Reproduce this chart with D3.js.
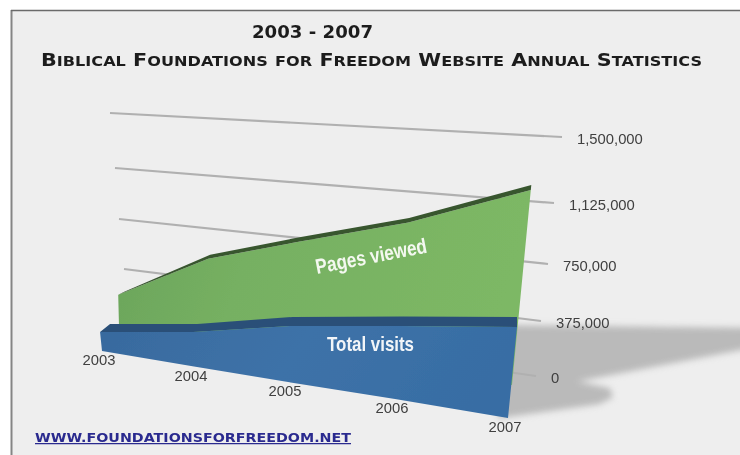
<!DOCTYPE html>
<html>
<head>
<meta charset="utf-8">
<script src="https://cdn.jsdelivr.net/npm/d3@7"></script>
<style>
  html, body { margin: 0; padding: 0; background: #fff; }
  svg { display: block; }
</style>
</head>
<body>
<div id="board"></div>
<script>
// values
const years = [2003, 2004, 2005, 2006, 2007];
const pagesViewed = [240000, 585000, 760000, 940000, 1175000];
const totalVisits = [150000, 213000, 283000, 313000, 340000];
const wallTicks = [0, 375000, 750000, 1125000, 1500000];
const title = "2003 - 2007";
const subtitle = "Biblical Foundations for Freedom Website Annual Statistics";
const siteUrl = "WWW.FOUNDATIONSFORFREEDOM.NET";

const width = 740;
const height = 455;

const svgRoot = d3.select("#board").append("svg")
    .attr("width", width)
    .attr("height", height);

const defs = svgRoot.append("defs");

defs.append("filter").attr("id", "soft")
    .attr("filterUnits", "userSpaceOnUse")
    .attr("x", 400).attr("y", 280).attr("width", 500).attr("height", 175)
    .append("feGaussianBlur").attr("stdDeviation", 3);

// the whole reference is a slightly soft screen grab
defs.append("filter").attr("id", "blurry")
    .attr("filterUnits", "userSpaceOnUse")
    .attr("x", 0).attr("y", 0).attr("width", width).attr("height", height)
    .append("feGaussianBlur").attr("stdDeviation", 0.5);

function gradient(id, x2, y2, stops) {
    const g = defs.append("linearGradient").attr("id", id)
        .attr("x1", 0).attr("y1", 0).attr("x2", x2).attr("y2", y2);
    stops.forEach(s => g.append("stop").attr("offset", s[0]).attr("stop-color", s[1]));
}
gradient("greenFill", 1, 0.15, [[0, "#6aa45a"], [0.35, "#76b062"], [1, "#7db865"]]);
gradient("blueFill", 1, 0.15, [[0, "#386a9e"], [0.5, "#3e72a8"], [1, "#376da4"]]);

const svg = svgRoot.append("g").attr("filter", "url(#blurry)");

// background and frame
svg.append("rect").attr("x", 12).attr("y", 11)
    .attr("width", width - 12).attr("height", height - 11)
    .attr("fill", "#eeeeee");
svg.append("line").attr("x1", 11.5).attr("x2", 11.5).attr("y1", 10).attr("y2", height)
    .attr("stroke", "#858585").attr("stroke-width", 2);
svg.append("line").attr("x1", 11).attr("x2", width).attr("y1", 10.5).attr("y2", 10.5)
    .attr("stroke", "#6a6a6a").attr("stroke-width", 1.6);

// back wall, each end of a gridline has its own scale because of the perspective
const wallLeftX = d3.scaleLinear().domain(wallTicks).range([128, 124, 119, 115, 110]);
const wallLeftY = d3.scaleLinear().domain(wallTicks).range([318, 269, 219, 168, 113]);
const wallRightX = d3.scaleLinear().domain(wallTicks).range([536, 541, 548, 554, 562]);
const wallRightY = d3.scaleLinear().domain(wallTicks).range([376, 321, 264, 203, 137]);

// a plane is a baseline plus a px per 100k height and lean for every year
function makePlane(xs, ys, rise, lean) {
    const baseX = d3.scaleLinear().domain(years).range(xs);
    const baseY = d3.scaleLinear().domain(years).range(ys);
    const riseY = d3.scaleLinear().domain(years).range(rise);
    const leanX = d3.scaleLinear().domain(years).range(lean);
    return {
        x: (yr, v) => baseX(yr) + leanX(yr) * v / 100000,
        y: (yr, v) => baseY(yr) - riseY(yr) * v / 100000
    };
}

const greenPlane = makePlane(
    [119, 207, 295, 398, 512], [326, 340, 354, 370, 385],
    [13, 13.9, 14.8, 15.7, 16.6], [-0.33, 0.2, 0.65, 1.1, 1.6]);
const bluePlane = makePlane(
    [102, 194, 288, 395, 508], [351, 366.5, 382, 399, 418],
    [12.7, 16.2, 19.8, 23.3, 26.8], [-1.3, -0.3, 0.7, 1.7, 2.65]);

// depth of the top bands
const greenDepthX = d3.scaleLinear().domain(years).range([6, 2, 1, 0.8, 0.5]);
const greenDepthY = d3.scaleLinear().domain(years).range([-3, -4, -4.5, -4.5, -5]);
const blueDepthX = d3.scaleLinear().domain(years).range([10, 4, 3, 1, 0]);
const blueDepthY = d3.scaleLinear().domain(years).range([-8, -8, -9, -9.5, -10]);

// floor shadow, starts a bit behind the blue face so the blur leaves no gap
const lastYear = years[years.length - 1];
const lastPages = pagesViewed[pagesViewed.length - 1];
const lastVisits = totalVisits[totalVisits.length - 1];
const shadowX = d3.scaleLinear().domain([0, lastPages]).range([508, 850]);
const shadowY = d3.scaleLinear().domain([0, lastPages]).range([418, 329]);
const tipX = shadowX(lastVisits);
const tipY = shadowY(lastVisits);

const shadow = svg.append("g").attr("filter", "url(#soft)").attr("fill", "#bababa");
shadow.append("path").attr("d", d3.line()([
    [bluePlane.x(lastYear, lastVisits) - 10, bluePlane.y(lastYear, lastVisits) - 2],
    [shadowX(lastPages), shadowY(lastPages)],
    [bluePlane.x(lastYear, 80000) - 10, bluePlane.y(lastYear, 80000)]
]));
shadow.append("path").attr("d", d3.line()([
    [bluePlane.x(lastYear, 0) - 10, bluePlane.y(lastYear, 0)],
    [bluePlane.x(lastYear, 0), bluePlane.y(lastYear, 0) - 1],
    [tipX - 8, tipY + 12],
    [tipX + 6, tipY + 5],
    [tipX + 3, tipY - 4],
    [tipX - 25, tipY - 10],
    [bluePlane.x(lastYear, lastVisits / 2) - 10, bluePlane.y(lastYear, lastVisits / 2)]
]));

// gridlines and value labels
const grid = svg.append("g");
grid.selectAll("line").data(wallTicks).join("line")
    .attr("x1", d => wallLeftX(d))
    .attr("y1", d => wallLeftY(d))
    .attr("x2", d => wallRightX(d))
    .attr("y2", d => wallRightY(d))
    .attr("stroke", "#b0b0b0")
    .attr("stroke-width", 2.2);
grid.selectAll("text").data(wallTicks).join("text")
    .attr("x", d => wallRightX(d) + 15)
    .attr("y", d => wallRightY(d) + 6.5)
    .attr("font-family", "Liberation Sans")
    .attr("font-size", 14.8)
    .attr("fill", "#3f3f3f")
    .text(d => d3.format(",")(d));

// pages viewed
const pages = years.map((yr, i) => ({ yr: yr, v: pagesViewed[i] }));
const visits = years.map((yr, i) => ({ yr: yr, v: totalVisits[i] }));

svg.append("path").datum(pages)
    .attr("fill", "url(#greenFill)")
    .attr("d", d3.area()
        .x0(d => greenPlane.x(d.yr, 0))
        .y0(d => greenPlane.y(d.yr, 0))
        .x1(d => greenPlane.x(d.yr, d.v))
        .y1(d => greenPlane.y(d.yr, d.v)));

svg.append("path").datum(pages)
    .attr("fill", "#38562f")
    .attr("d", d3.area()
        .x0(d => greenPlane.x(d.yr, d.v))
        .y0(d => greenPlane.y(d.yr, d.v))
        .x1(d => greenPlane.x(d.yr, d.v) + greenDepthX(d.yr))
        .y1(d => greenPlane.y(d.yr, d.v) + greenDepthY(d.yr)));

// total visits
svg.append("path").datum(visits)
    .attr("fill", "#2a5078")
    .attr("d", d3.area()
        .x0(d => bluePlane.x(d.yr, d.v))
        .y0(d => bluePlane.y(d.yr, d.v))
        .x1(d => bluePlane.x(d.yr, d.v) + blueDepthX(d.yr))
        .y1(d => bluePlane.y(d.yr, d.v) + blueDepthY(d.yr)));

svg.append("path").datum(visits)
    .attr("fill", "url(#blueFill)")
    .attr("d", d3.area()
        .x0(d => bluePlane.x(d.yr, 0))
        .y0(d => bluePlane.y(d.yr, 0))
        .x1(d => bluePlane.x(d.yr, d.v))
        .y1(d => bluePlane.y(d.yr, d.v)));

// year labels under the front edge
svg.append("g").selectAll("text").data(years).join("text")
    .attr("x", d => bluePlane.x(d, 0) - 3)
    .attr("y", d => bluePlane.y(d, 0) + 14)
    .attr("text-anchor", "middle")
    .attr("font-family", "Liberation Sans")
    .attr("font-size", 14.8)
    .attr("fill", "#3f3f3f")
    .text(d => d);

// series names
svg.append("text")
    .attr("transform", "translate(317,274) rotate(-11)")
    .attr("textLength", 113).attr("lengthAdjust", "spacingAndGlyphs")
    .attr("font-family", "Liberation Sans")
    .attr("font-weight", "bold")
    .attr("font-size", 21)
    .attr("fill", "#f4f8f0")
    .text("Pages viewed");
svg.append("text")
    .attr("x", 327)
    .attr("y", 351)
    .attr("textLength", 87).attr("lengthAdjust", "spacingAndGlyphs")
    .attr("font-family", "Liberation Sans")
    .attr("font-weight", "bold")
    .attr("font-size", 21)
    .attr("fill", "#f2f5f8")
    .text("Total visits");

// titles
svg.append("text")
    .attr("x", 252).attr("y", 38)
    .attr("textLength", 121).attr("lengthAdjust", "spacingAndGlyphs")
    .attr("font-family", "DejaVu Sans")
    .attr("font-weight", "bold")
    .attr("font-size", 17.5)
    .attr("fill", "#1d1d1d")
    .text(title);

// copperplate look: big capitals, uppercased small letters
const subtitleText = svg.append("text")
    .attr("x", 41).attr("y", 66)
    .attr("textLength", 661).attr("lengthAdjust", "spacingAndGlyphs")
    .attr("font-family", "DejaVu Sans")
    .attr("font-weight", "bold")
    .attr("font-size", 18)
    .attr("fill", "#1d1d1d");
subtitleText.selectAll("tspan")
    .data(subtitle.match(/[A-Z ]+|[a-z]+/g))
    .join("tspan")
    .attr("font-size", d => /[a-z]/.test(d) ? 14 : 18)
    .style("text-transform", "uppercase")
    .text(d => d);

svg.append("text")
    .attr("x", 35).attr("y", 442)
    .attr("textLength", 316).attr("lengthAdjust", "spacingAndGlyphs")
    .attr("font-family", "DejaVu Sans")
    .attr("font-weight", "bold")
    .attr("font-size", 12.5)
    .attr("text-decoration", "underline")
    .attr("fill", "#2b2b8f")
    .text(siteUrl);
</script>
</body>
</html>
